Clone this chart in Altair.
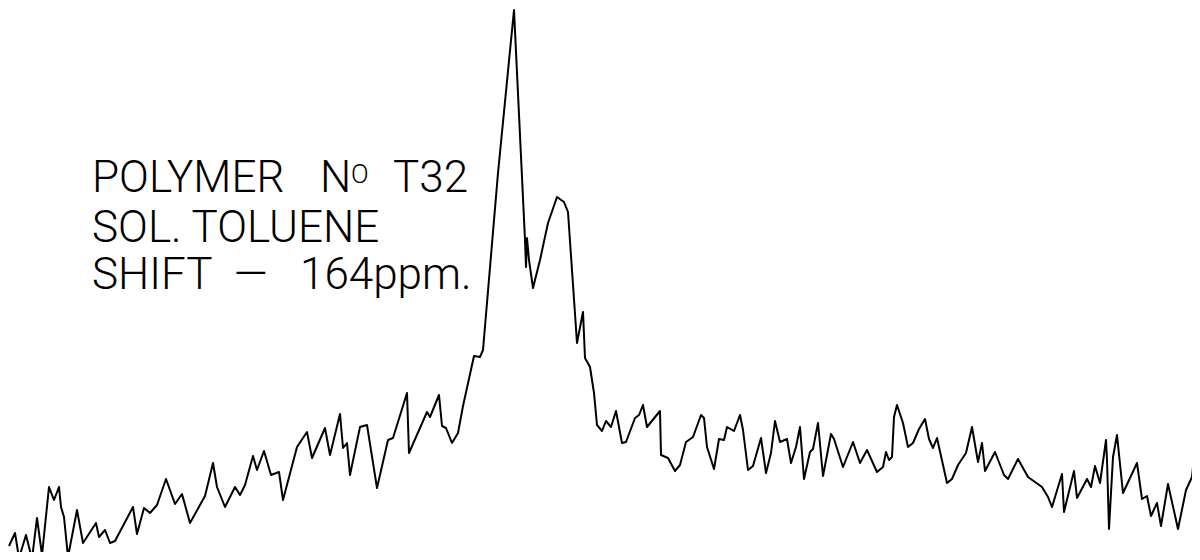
import altair as alt
import pandas as pd

# Spectrum trace (shift position, signal intensity)
shift = [9, 15, 19, 26, 32, 37, 42, 49, 54, 59, 61, 64, 68, 77, 83, 96, 99, 105, 110, 115,
         133, 137, 144, 150, 157, 166, 175, 182, 190, 205, 213, 217, 225, 235, 240, 245, 253, 257, 264, 271,
         279, 283, 297, 307, 312, 325, 330, 340, 343, 347, 350, 360, 367, 377, 388, 393, 407, 409, 427, 430,
         439, 442, 446, 452, 458, 463, 474, 480, 483, 498, 514, 525, 526, 527, 529, 533, 540, 548, 557, 564,
         568, 577, 583, 585, 590, 594, 597, 602, 606, 611, 616, 622, 626, 635, 639, 643, 647, 660, 661, 668,
         675, 680, 686, 693, 701, 704, 707, 714, 719, 724, 727, 734, 740, 743, 748, 753, 761, 766, 771, 775,
         780, 787, 791, 796, 800, 804, 810, 813, 818, 823, 831, 834, 843, 853, 860, 867, 877, 883, 886, 889,
         892, 894, 897, 903, 908, 913, 919, 925, 929, 933, 937, 947, 952, 958, 966, 972, 978, 982, 985, 995,
         1004, 1008, 1018, 1028, 1035, 1042, 1048, 1052, 1062, 1064, 1074, 1077, 1087, 1091, 1095, 1100, 1106, 1107, 1109, 1113,
         1117, 1123, 1137, 1142, 1147, 1151, 1157, 1161, 1168, 1178, 1186, 1192, 1196, 1199]

signal = [14, 27, 2, 25, 1, 42, 5, 73, 60, 73, 53, 43, 3, 50, 17, 37, 23, 30, 17, 19,
          53, 26, 52, 47, 55, 81, 56, 66, 37, 64, 97, 73, 53, 73, 65, 75, 104, 90, 109, 85,
          88, 60, 113, 128, 102, 132, 105, 146, 112, 117, 85, 133, 135, 72, 120, 122, 167, 107, 148, 143,
          165, 134, 132, 117, 127, 154, 204, 203, 210, 387, 550, 320, 293, 322, 300, 272, 300, 337, 363, 358,
          348, 217, 248, 202, 193, 167, 135, 129, 139, 133, 149, 117, 118, 142, 145, 155, 133, 149, 105, 102,
          89, 95, 118, 123, 145, 142, 113, 91, 121, 120, 133, 129, 145, 130, 90, 94, 122, 87, 107, 139,
          118, 121, 97, 113, 133, 81, 108, 111, 137, 84, 126, 121, 93, 118, 97, 110, 88, 93, 108, 100,
          103, 143, 155, 137, 113, 117, 131, 141, 121, 112, 122, 77, 81, 95, 107, 133, 98, 117, 89, 108,
          85, 81, 101, 83, 78, 73, 63, 53, 86, 48, 89, 62, 81, 73, 94, 77, 120, 100, 31, 103,
          125, 67, 97, 61, 64, 44, 57, 34, 76, 31, 70, 83, 123, 70]

label_parts = ["POLYMER", "N", "O", "T32", "SOL. TOLUENE",
               "SHIFT\u00a0\u00a0—\u00a0\u00a0\u00a0164ppm."]

df = pd.DataFrame({"shift": shift, "signal": signal})

W, H = 1184, 544
FONT = "Roboto"

line = alt.Chart(df).mark_line(color="black", strokeWidth=2, strokeJoin="round", clip=True).encode(
    x=alt.X("shift:Q", scale=alt.Scale(domain=[8, 1192], nice=False, zero=False), axis=None),
    y=alt.Y("signal:Q", scale=alt.Scale(domain=[8, 552], nice=False, zero=False), axis=None),
    order="shift:Q",
)

def txt(s, x, y, size):
    return alt.Chart(pd.DataFrame({"t": [s]})).mark_text(
        align="left", baseline="alphabetic", font=FONT, fontSize=size, fontWeight=300, color="black"
    ).encode(text="t:N", x=alt.value(x), y=alt.value(y))

texts = [
    txt(label_parts[0], 84, 184, 44),
    txt(label_parts[1], 312, 184, 44),
    txt(label_parts[2], 343, 175, 26),
    txt(label_parts[3], 385, 184, 44),
    txt(label_parts[4], 84, 234, 44),
    txt(label_parts[5], 84, 281, 44),
]

chart = alt.layer(line, *texts).properties(
    width=W, height=H, padding=0, autosize="none", background="white"
).configure_view(stroke=None)

chart.save("out.html", embed_options={"renderer": "svg", "actions": False})
